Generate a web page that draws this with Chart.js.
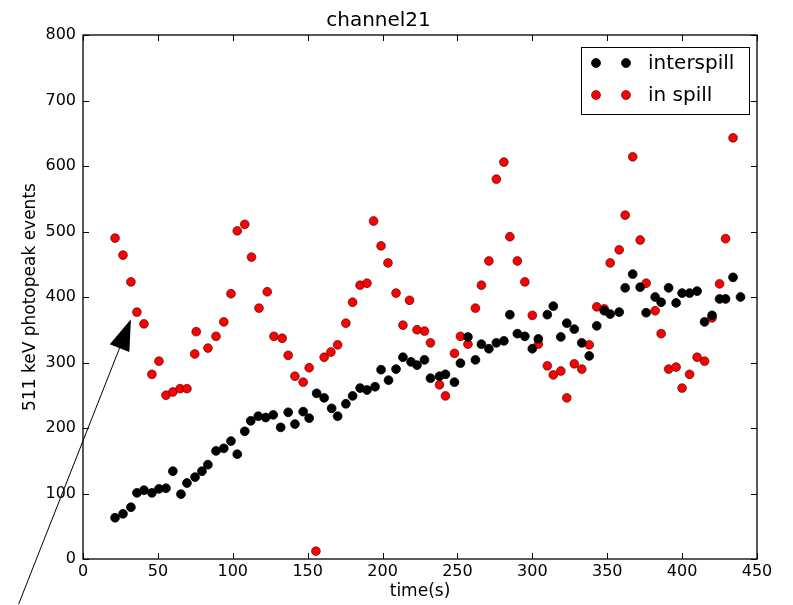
<!DOCTYPE html>
<html lang="en">
<head>
    <meta charset="UTF-8">
    <title>channel21</title>
    <script src="https://cdn.jsdelivr.net/npm/chart.js@4.4.0/dist/chart.umd.min.js"></script>
    <style>
        html, body { margin: 0; padding: 0; background: #fff; }
        #wrap { width: 793px; height: 605px; }
    </style>
</head>
<body>
<div id="wrap"><canvas id="chart" width="793" height="605"></canvas></div>
<script>
    // interspill (black)
    const interTime = [
        21.4, 26.7, 32, 36, 40.7, 46, 50.7, 55.4, 60, 65.4, 69.4, 74.8, 79.4, 83.4, 88.8, 94, 98.8, 103, 108, 112,
        117, 122, 127, 132, 137, 141.5, 147, 151, 156, 161, 166, 170, 175.5, 180, 185, 189.6, 195, 199, 204, 209, 213.6,
        219, 223, 228, 232, 238, 242, 248, 252, 257, 262, 266, 271, 276, 281, 285, 290, 295, 300, 304, 310, 314, 319, 323,
        328, 333, 338, 343, 348, 352, 358, 362, 367, 372, 376, 382, 386, 391, 396, 400, 405, 410, 415, 420, 425, 429, 434, 439
    ];
    const interCounts = [
        63, 69, 79, 101, 105, 101, 107, 108, 134, 99, 116, 125, 134, 144, 165, 169, 180, 160, 195, 211,
        218, 216, 220, 201, 224, 206, 225, 215, 253, 246, 230, 218, 237, 249, 261, 258, 263, 289, 273, 290, 308,
        301, 296, 304, 276, 279, 282, 270, 299, 339, 304, 328, 321, 330, 333, 373, 344, 340, 321, 336, 373, 386, 339, 360,
        351, 330, 310, 356, 379, 374, 377, 414, 435, 415, 376, 400, 392, 414, 391, 406, 406, 409, 362, 372, 397, 397, 430, 400
    ];

    // in spill (red)
    const spillTime = [
        21.4, 26.7, 32, 36, 40.7, 46, 50.7, 55.4, 60, 64.8, 69.4, 74.6, 75.6, 83.4, 88.8, 94, 98.8, 103, 108, 112.5,
        117.5, 123, 127.5, 133, 137, 141.5, 147, 151, 155.5, 161, 165.5, 170, 175.5, 180, 185, 189.6, 194, 199, 203.6, 209, 213.6, 218, 223,
        228, 232, 238, 242, 248, 252, 257, 262, 266, 271, 276, 281, 285, 290, 295, 300, 304, 310, 314, 319, 323,
        328, 333, 338, 343, 348, 352, 358, 362, 367, 372, 376, 382, 386, 391, 396, 400, 405, 410, 415, 420, 425, 429, 434
    ];
    const spillCounts = [
        490, 464, 423, 377, 359, 282, 302, 250, 255, 260, 260, 313, 347, 322, 340, 362, 405, 501, 511, 461,
        383, 408, 340, 337, 311, 279, 270, 292, 12, 308, 316, 327, 360, 392, 418, 421, 516, 478, 452, 406, 357, 395, 350,
        348, 330, 266, 249, 314, 340, 328, 383, 418, 455, 580, 606, 492, 455, 423, 372, 328, 295, 281, 287, 246,
        298, 290, 327, 385, 382, 452, 472, 525, 614, 487, 421, 379, 344, 290, 293, 261, 282, 308, 302, 368, 420, 489, 643
    ];

    const xTicks = [0, 50, 100, 150, 200, 250, 300, 350, 400, 450];
    const yTicks = [0, 100, 200, 300, 400, 500, 600, 700, 800];
    const seriesNames = ['interspill', 'in spill'];

    // annotation arrow, in data units (tail is outside the axes)
    const arrowTail = { x: -43, y: -69 };
    const arrowTip = { x: 32, y: 366 };

    const FONT = 'DejaVu Sans';

    function toPoints(xs, ys) {
        return xs.map((x, i) => ({ x: x, y: ys[i] }));
    }

    // frame + inward ticks like matplotlib
    const framePlugin = {
        id: 'frame',
        afterDatasetsDraw(chart) {
            const { ctx, chartArea: a, scales } = chart;
            const len = 6;
            ctx.save();
            ctx.strokeStyle = '#000';
            ctx.lineWidth = 1;
            xTicks.forEach(v => {
                const px = Math.round(scales.x.getPixelForValue(v)) + 0.5;
                ctx.beginPath();
                ctx.moveTo(px, a.bottom); ctx.lineTo(px, a.bottom - len);
                ctx.moveTo(px, a.top); ctx.lineTo(px, a.top + len);
                ctx.stroke();
            });
            yTicks.forEach(v => {
                const py = Math.round(scales.y.getPixelForValue(v)) + 0.5;
                ctx.beginPath();
                ctx.moveTo(a.left, py); ctx.lineTo(a.left + len, py);
                ctx.moveTo(a.right, py); ctx.lineTo(a.right - len, py);
                ctx.stroke();
            });
            ctx.lineWidth = 1.3;
            ctx.strokeRect(a.left, a.top, a.right - a.left, a.bottom - a.top);
            ctx.restore();
        }
    };

    // arrow pointing at the early in-spill points
    const arrowPlugin = {
        id: 'arrow',
        afterDraw(chart) {
            const { ctx, scales } = chart;
            const x0 = scales.x.getPixelForValue(arrowTail.x);
            const y0 = scales.y.getPixelForValue(arrowTail.y);
            const x1 = scales.x.getPixelForValue(arrowTip.x);
            const y1 = scales.y.getPixelForValue(arrowTip.y);
            const dx = x1 - x0, dy = y1 - y0;
            const L = Math.sqrt(dx * dx + dy * dy);
            const ux = dx / L, uy = dy / L;
            const headLen = 31, headHalf = 10.5;
            const bx = x1 - ux * headLen, by = y1 - uy * headLen;
            ctx.save();
            ctx.strokeStyle = '#000';
            ctx.fillStyle = '#000';
            ctx.lineWidth = 1;
            ctx.beginPath();
            ctx.moveTo(x0, y0);
            ctx.lineTo(bx, by);
            ctx.stroke();
            ctx.beginPath();
            ctx.moveTo(x1, y1);
            ctx.lineTo(bx - uy * headHalf, by + ux * headHalf);
            ctx.lineTo(bx + uy * headHalf, by - ux * headHalf);
            ctx.closePath();
            ctx.fill();
            ctx.restore();
        }
    };

    // legend with two markers per row (numpoints=2)
    const legendPlugin = {
        id: 'mplLegend',
        afterDraw(chart) {
            const { ctx, chartArea: a } = chart;
            const right = a.right - 8, top = a.top + 12;
            const w = 168, h = 67;
            const left = right - w;
            ctx.save();
            ctx.fillStyle = '#fff';
            ctx.fillRect(left, top, w, h);
            ctx.strokeStyle = '#000';
            ctx.lineWidth = 1;
            ctx.strokeRect(left + 0.5, top + 0.5, w, h);
            chart.data.datasets.forEach((ds, i) => {
                const y = top + 16 + i * 32;
                [left + 15, left + 45].forEach(x => {
                    ctx.beginPath();
                    ctx.arc(x, y, 4.5, 0, Math.PI * 2);
                    ctx.fillStyle = ds.backgroundColor;
                    ctx.fill();
                    ctx.lineWidth = 0.8;
                    ctx.strokeStyle = ds.borderColor;
                    ctx.stroke();
                });
                ctx.fillStyle = '#000';
                ctx.font = '20px "' + FONT + '"';
                ctx.textBaseline = 'middle';
                ctx.textAlign = 'left';
                ctx.fillText(seriesNames[i], left + 67, y + 1);
            });
            ctx.restore();
        }
    };

    new Chart(document.getElementById('chart'), {
        type: 'scatter',
        data: {
            datasets: [
                {
                    label: seriesNames[0],
                    data: toPoints(interTime, interCounts),
                    backgroundColor: '#000000',
                    borderColor: '#000000',
                    borderWidth: 0.8,
                    pointRadius: 4.4
                },
                {
                    label: seriesNames[1],
                    data: toPoints(spillTime, spillCounts),
                    backgroundColor: '#ff0000',
                    borderColor: 'rgba(40,0,0,0.75)',
                    borderWidth: 0.8,
                    pointRadius: 4.4
                }
            ]
        },
        options: {
            responsive: false,
            animation: false,
            events: [],
            layout: { padding: { top: 0, right: 36, bottom: 0, left: 0 } },
            plugins: {
                legend: { display: false },
                tooltip: { enabled: false },
                title: {
                    display: true,
                    text: 'channel21',
                    color: '#000',
                    font: { family: FONT, size: 20, weight: 'normal' },
                    padding: { top: 9, bottom: 2 }
                }
            },
            scales: {
                x: {
                    type: 'linear',
                    min: 0,
                    max: 450,
                    afterFit(s) { s.height = 46; },
                    afterBuildTicks(s) { s.ticks = xTicks.map(v => ({ value: v })); },
                    grid: { display: false, drawTicks: false },
                    border: { display: false },
                    ticks: {
                        color: '#000',
                        padding: 3,
                        maxRotation: 0,
                        font: { family: FONT, size: 16 }
                    },
                    title: {
                        display: true,
                        text: 'time(s)',
                        color: '#000',
                        font: { family: FONT, size: 17 },
                        padding: { top: 0, bottom: 3 }
                    }
                },
                y: {
                    type: 'linear',
                    min: 0,
                    max: 800,
                    afterFit(s) { s.width = 83; },
                    afterBuildTicks(s) { s.ticks = yTicks.map(v => ({ value: v })); },
                    grid: { display: false, drawTicks: false },
                    border: { display: false },
                    ticks: {
                        color: '#000',
                        padding: 7,
                        font: { family: FONT, size: 16 }
                    },
                    title: {
                        display: true,
                        text: '511 keV photopeak events',
                        color: '#000',
                        font: { family: FONT, size: 17 },
                        padding: { top: 20, bottom: 0 }
                    }
                }
            }
        },
        plugins: [framePlugin, legendPlugin, arrowPlugin]
    });
</script>
</body>
</html>
